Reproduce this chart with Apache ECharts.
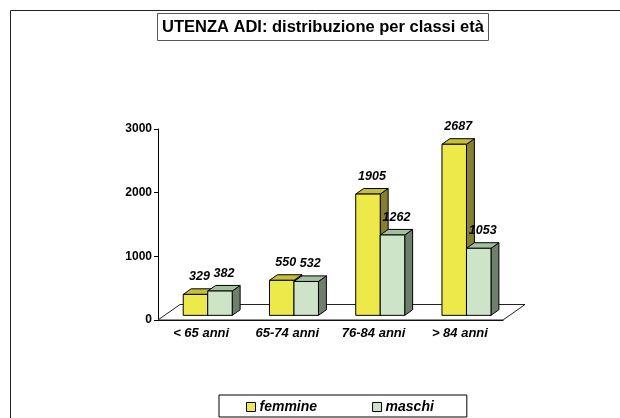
<!DOCTYPE html>
<html>
<head>
<meta charset="utf-8">
<script src="https://cdn.jsdelivr.net/npm/echarts@6/dist/echarts.min.js"></script>
<style>html,body{margin:0;padding:0;background:#fff}#c{width:620px;height:418px}</style>
</head>
<body>
<div id="c"></div>
<script>
const titleText = 'UTENZA ADI: distribuzione per classi età';
const categories = ['< 65 anni', '65-74 anni', '76-84 anni', '> 84 anni'];
const femmine = [329, 550, 1905, 2687];
const maschi = [382, 532, 1262, 1053];
const seriesNames = ['femmine', 'maschi'];
const yTicks = [0, 1000, 2000, 3000];

const FONT = 'Liberation Sans, Arial, sans-serif';
const PAL = [
  { front: '#EDE94A', top: '#C5BE3B', side: '#85802F' },
  { front: '#CDE4C8', top: '#A2BFA0', side: '#6E806C' }
];
const FLOOR_D = [22, -15.5];   // floor depth offset in px
const FRONT_F = 0.3;           // bars front at this fraction of depth
const BAR_F = 0.36;            // bar depth fraction

function renderFloor(params, api) {
  const n = categories.length;
  const c0 = api.coord([0, 0]);
  const cw = api.size([1, 0])[0];
  const xl = c0[0] - cw / 2, xr = xl + cw * n, y = c0[1];
  return {
    type: 'polygon',
    shape: { points: [[xl, y], [xl + FLOOR_D[0], y + FLOOR_D[1]], [xr + FLOOR_D[0], y + FLOOR_D[1]], [xr, y]] },
    style: { fill: '#fff', stroke: '#222', lineWidth: 1 }
  };
}

function renderBar(params, api) {
  const s = params.seriesIndex - 1;
  const i = api.value(0), v = api.value(1);
  const base = api.coord([i, 0]);
  const top = api.coord([i, v]);
  const cw = api.size([1, 0])[0];
  const bw = cw * 0.284;
  const fx = FLOOR_D[0] * FRONT_F, fy = FLOOR_D[1] * FRONT_F;
  const dx = FLOOR_D[0] * BAR_F, dy = FLOOR_D[1] * BAR_F;
  const x0 = base[0] - bw + s * bw + fx, x1 = x0 + bw;
  const yb = base[1] + fy, yt = top[1] + fy;
  const p = PAL[s];
  const ls = { stroke: '#000', lineWidth: 1, lineJoin: 'round' };
  return {
    type: 'group',
    children: [
      { type: 'polygon', shape: { points: [[x1, yb], [x1 + dx, yb + dy], [x1 + dx, yt + dy], [x1, yt]] }, style: Object.assign({ fill: p.side }, ls) },
      { type: 'polygon', shape: { points: [[x0, yt], [x0 + dx, yt + dy], [x1 + dx, yt + dy], [x1, yt]] }, style: Object.assign({ fill: p.top }, ls) },
      { type: 'rect', shape: { x: x0, y: yt, width: bw, height: yb - yt }, style: Object.assign({ fill: p.front }, ls) },
      { type: 'text', x: (x0 + x1) / 2 + dx / 2, y: yt - 11,
        style: { text: String(v), fill: '#000', font: 'italic bold 12.5px ' + FONT, align: 'center', verticalAlign: 'bottom' } }
    ]
  };
}

const chart = echarts.init(document.getElementById('c'), null, { renderer: 'canvas' });
chart.setOption({
  animation: false,
  backgroundColor: '#fff',
  title: {
    text: titleText, left: 157, top: 13, padding: [6, 5, 5, 5],
    borderWidth: 1, borderColor: '#555',
    textStyle: { fontFamily: FONT, fontSize: 16.5, fontWeight: 'bold', color: '#000' }
  },
  graphic: [{ type: 'rect', shape: { x: 10.5, y: 10.5, width: 700, height: 500 }, style: { fill: 'none', stroke: '#222', lineWidth: 1 }, z: -1 }],
  legend: {
    data: seriesNames.map((n, k) => ({ name: n, itemStyle: { color: PAL[k].front, borderColor: '#000', borderWidth: 1 } })),
    left: 219, top: 395, padding: [5, 33, 3, 27], itemGap: 55,
    itemWidth: 9, itemHeight: 9, icon: 'rect',
    borderColor: '#000', borderWidth: 1,
    textStyle: { fontFamily: FONT, fontSize: 14, fontStyle: 'italic', fontWeight: 'bold', color: '#000', padding: [0, 0, 0, -1] }
  },
  grid: { left: 158, right: 117, top: 129, bottom: 98 },
  xAxis: {
    type: 'category', data: categories, boundaryGap: true,
    axisLine: { lineStyle: { color: '#000', width: 1 } },
    axisTick: { length: 4, lineStyle: { color: '#000' } },
    axisLabel: { margin: 7, fontFamily: FONT, fontSize: 13, fontStyle: 'italic', fontWeight: 'bold', color: '#000' }
  },
  yAxis: {
    type: 'value', min: yTicks[0], max: yTicks[yTicks.length - 1], interval: 1000,
    axisLine: { show: true, lineStyle: { color: '#000', width: 1 } },
    axisTick: { show: true, length: 4, lineStyle: { color: '#000' } },
    splitLine: { show: false },
    axisLabel: { margin: 6, fontFamily: FONT, fontSize: 12, fontWeight: 'bold', color: '#000', formatter: v => String(v) }
  },
  series: [
    { name: 'floor', type: 'custom', renderItem: renderFloor, data: [[0, 0]], clip: false, z: 1, silent: true },
    { name: seriesNames[0], type: 'custom', renderItem: renderBar, clip: false, z: 2,
      itemStyle: { color: PAL[0].front }, data: femmine.map((v, i) => [i, v]) },
    { name: seriesNames[1], type: 'custom', renderItem: renderBar, clip: false, z: 3,
      itemStyle: { color: PAL[1].front }, data: maschi.map((v, i) => [i, v]) }
  ]
});
</script>
</body>
</html>
